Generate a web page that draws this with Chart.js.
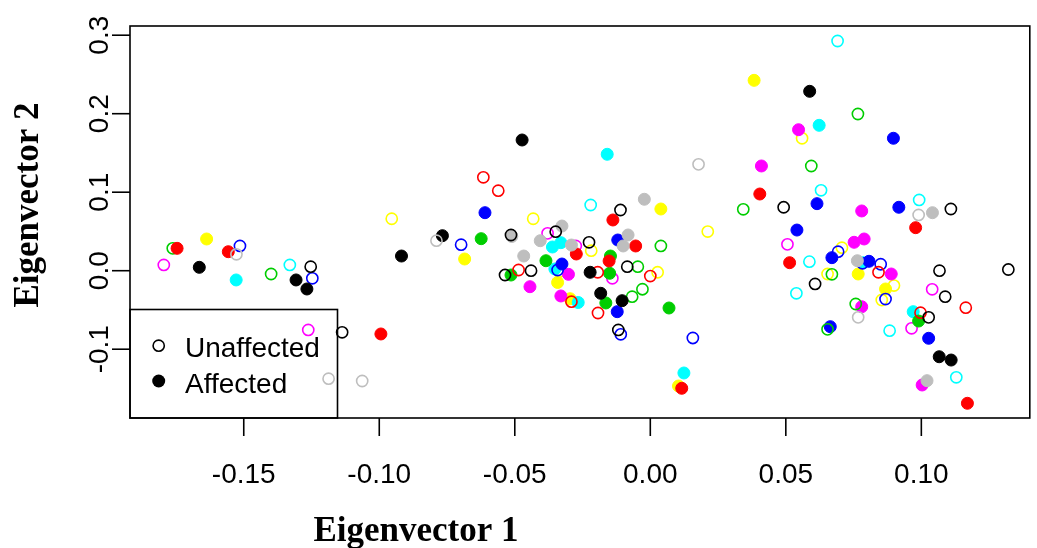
<!DOCTYPE html>
<html><head><meta charset="utf-8">
<script src="https://cdn.jsdelivr.net/npm/chart.js@4.4.1/dist/chart.umd.min.js"></script>
<style>html,body{margin:0;padding:0;background:#fff;}canvas{display:block;}</style>
</head><body>
<canvas id="c" width="1037" height="548"></canvas>
<script>
// ---- axis / text data ----
const xTickValues = [-0.15, -0.10, -0.05, 0.00, 0.05, 0.10];
const xTickLabels = ["-0.15", "-0.10", "-0.05", "0.00", "0.05", "0.10"];
const yTickValues = [-0.1, 0.0, 0.1, 0.2, 0.3];
const yTickLabels = ["-0.1", "0.0", "0.1", "0.2", "0.3"];
const xTitle = "Eigenvector 1";
const yTitle = "Eigenvector 2";
const legendLabels = ["Unaffected", "Affected"];

// ---- point data: [eigenvector1, eigenvector2] ----
const blackOpen = [[-0.1253,0.0051],[-0.1137,-0.0785],[-0.0514,0.0455],[-0.0536,-0.0055],[-0.0440,0.0000],[-0.0349,0.0497],[-0.0110,0.0773],[-0.0226,0.0362],[-0.0085,0.0051],[-0.0118,-0.0755],[0.0492,0.0808],[0.0608,-0.0169],[0.1109,0.0786],[0.1067,0.0000],[0.1321,0.0015],[0.1088,-0.0331],[0.1027,-0.0594]];
const blackFilled = [[-0.1664,0.0043],[-0.1307,-0.0118],[-0.1267,-0.0233],[-0.0767,0.0446],[-0.0918,0.0187],[-0.0473,0.1665],[-0.0222,-0.0020],[-0.0183,-0.0288],[-0.0104,-0.0382],[0.0588,0.2285],[0.1066,-0.1096],[0.1110,-0.1138]];
const redOpen = [[-0.0616,0.1190],[-0.0561,0.1019],[-0.0486,0.0009],[-0.0194,-0.0020],[0.0000,-0.0068],[-0.0193,-0.0539],[-0.0291,-0.0395],[0.0842,-0.0020],[0.0997,-0.0535],[0.1164,-0.0471]];
const redFilled = [[-0.1746,0.0285],[-0.1557,0.0242],[-0.0994,-0.0806],[-0.0273,0.0213],[-0.0138,0.0646],[-0.0054,0.0315],[-0.0152,0.0124],[0.0116,-0.1498],[0.0404,0.0977],[0.0514,0.0102],[0.0979,0.0548],[0.1170,-0.1689]];
const greenOpen = [[-0.1762,0.0285],[-0.1399,-0.0042],[0.0039,0.0315],[-0.0046,0.0051],[-0.0067,-0.0331],[-0.0029,-0.0236],[0.0343,0.0782],[0.0766,0.1996],[0.0594,0.1334],[0.0670,-0.0046],[0.0758,-0.0424],[0.0654,-0.0747]];
const greenFilled = [[-0.0624,0.0408],[-0.0514,-0.0055],[-0.0385,0.0127],[-0.0147,0.0187],[-0.0150,-0.0033],[-0.0164,-0.0411],[0.0069,-0.0475],[0.0990,-0.0641]];
const blueOpen = [[-0.1514,0.0315],[-0.1247,-0.0097],[-0.0698,0.0331],[-0.0342,0.0009],[-0.0109,-0.0810],[0.0157,-0.0857],[0.0693,0.0242],[0.0783,0.0094],[0.0850,0.0082],[0.0868,-0.0361]];
const blueFilled = [[-0.0610,0.0739],[-0.0326,0.0085],[-0.0120,0.0391],[-0.0122,-0.0522],[0.0615,0.0854],[0.0897,0.1687],[0.0917,0.0808],[0.0541,0.0518],[0.0670,0.0166],[0.0807,0.0120],[0.1027,-0.0861],[0.0664,-0.0713]];
const cyanOpen = [[-0.1330,0.0073],[-0.0220,0.0837],[0.0691,0.2926],[0.0630,0.1024],[0.0587,0.0115],[0.0539,-0.0288],[0.0992,0.0901],[0.0883,-0.0764],[0.1129,-0.1358]];
const cyanFilled = [[-0.1528,-0.0118],[-0.0159,0.1483],[-0.0361,0.0302],[-0.0330,0.0357],[-0.0352,0.0022],[-0.0266,-0.0405],[0.0124,-0.1303],[0.0623,0.1852],[0.0785,0.0102],[0.0970,-0.0522]];
const magentaOpen = [[-0.1795,0.0073],[-0.1262,-0.0755],[-0.0379,0.0476],[-0.0140,-0.0097],[0.0506,0.0336],[0.1040,-0.0237],[0.0964,-0.0734],[-0.0275,0.0315]];
const magentaFilled = [[-0.0444,-0.0204],[-0.0302,-0.0046],[-0.0330,-0.0322],[0.0410,0.1334],[0.0547,0.1796],[0.0780,0.0761],[0.0752,0.0362],[0.0789,0.0404],[0.0889,-0.0042],[0.0780,-0.0459],[0.1003,-0.1456]];
const yellowOpen = [[-0.0954,0.0662],[-0.0432,0.0662],[-0.0218,0.0255],[-0.0336,-0.0013],[0.0027,-0.0020],[0.0212,0.0499],[0.0560,0.1687],[0.0707,0.0293],[0.0654,-0.0042],[0.0899,-0.0189],[0.0854,-0.0373]];
const yellowFilled = [[-0.1637,0.0404],[-0.0685,0.0149],[-0.0342,-0.0150],[-0.0296,-0.0357],[0.0039,0.0786],[0.0383,0.2425],[0.0767,-0.0042],[0.0868,-0.0233],[0.0104,-0.1469]];
const grayOpen = [[-0.1527,0.0209],[-0.1187,-0.1376],[-0.1063,-0.1405],[-0.0789,0.0382],[0.0178,0.1355],[0.0990,0.0710],[0.0767,-0.0594]];
const grayFilled = [[-0.0511,0.0436],[-0.0467,0.0187],[-0.0406,0.0382],[-0.0326,0.0569],[-0.0291,0.0327],[-0.0082,0.0455],[-0.0100,0.0315],[-0.0022,0.0910],[0.1041,0.0739],[0.0764,0.0127],[0.1021,-0.1401]];

const colBlack = "#000000", colRed = "#FF0000", colGreen = "#00CD00", colBlue = "#0000FF",
      colCyan = "#00FFFF", colMagenta = "#FF00FF", colYellow = "#FFFF00", colGray = "#BEBEBE";

function toPts(arr){ return arr.map(p => ({x:p[0], y:p[1]})); }
function openSet(arr, col){
  return {data: toPts(arr), pointStyle:'circle', pointRadius:5.6, pointHoverRadius:5.6,
          backgroundColor:'rgba(0,0,0,0)', borderColor:col, pointBorderWidth:1.6, borderWidth:1.6, showLine:false};
}
function fillSet(arr, col){
  return {data: toPts(arr), pointStyle:'circle', pointRadius:6, pointHoverRadius:6,
          backgroundColor:col, borderColor:col, pointBorderWidth:1, borderWidth:1, showLine:false};
}

const datasets = [
  openSet(blackOpen, colBlack), fillSet(grayFilled, colGray), openSet(grayOpen, colGray),
  fillSet(blackFilled, colBlack), openSet(redOpen, colRed), fillSet(redFilled, colRed),
  openSet(greenOpen, colGreen), fillSet(greenFilled, colGreen), openSet(blueOpen, colBlue),
  fillSet(blueFilled, colBlue), openSet(cyanOpen, colCyan), fillSet(cyanFilled, colCyan),
  openSet(magentaOpen, colMagenta), fillSet(magentaFilled, colMagenta),
  openSet(yellowOpen, colYellow), fillSet(yellowFilled, colYellow)
];

const sans = '"Liberation Sans", Arial, sans-serif';
const serif = '"Liberation Serif", "Times New Roman", serif';

const rAxes = {
  id: 'rAxes',
  afterDraw(chart){
    const ctx = chart.ctx, a = chart.chartArea;
    const xs = chart.scales.x, ys = chart.scales.y;
    ctx.save();
    ctx.strokeStyle = '#000'; ctx.fillStyle = '#000'; ctx.lineWidth = 1.6;
    ctx.strokeRect(a.left, a.top, a.right - a.left, a.bottom - a.top);
    // x ticks
    ctx.font = '28px ' + sans; ctx.textAlign = 'center'; ctx.textBaseline = 'alphabetic';
    xTickValues.forEach((v,i) => {
      const px = xs.getPixelForValue(v);
      ctx.beginPath(); ctx.moveTo(px, a.bottom); ctx.lineTo(px, a.bottom + 18); ctx.stroke();
      ctx.fillText(xTickLabels[i], px, 483);
    });
    // y ticks
    yTickValues.forEach((v,i) => {
      const py = ys.getPixelForValue(v);
      ctx.beginPath(); ctx.moveTo(a.left, py); ctx.lineTo(a.left - 18, py); ctx.stroke();
      ctx.save(); ctx.translate(108, py); ctx.rotate(-Math.PI/2);
      ctx.fillText(yTickLabels[i], 0, 0); ctx.restore();
    });
    // titles
    ctx.font = 'bold 35px ' + serif;
    ctx.fillText(xTitle, 416, 541);
    ctx.save(); ctx.translate(38, 205); ctx.rotate(-Math.PI/2);
    ctx.fillText(yTitle, 0, 0); ctx.restore();
    // legend
    const lx0 = a.left, ly0 = 309.5, lx1 = 337.5, ly1 = a.bottom;
    ctx.lineWidth = 1.6;
    ctx.strokeRect(lx0, ly0, lx1 - lx0, ly1 - ly0);
    ctx.beginPath(); ctx.arc(158.7, 345.7, 5.6, 0, Math.PI*2); ctx.lineWidth = 1.6; ctx.stroke();
    ctx.beginPath(); ctx.arc(158.7, 381, 6.5, 0, Math.PI*2); ctx.fill();
    ctx.font = '28px ' + sans; ctx.textAlign = 'left';
    ctx.fillText(legendLabels[0], 185, 357);
    ctx.fillText(legendLabels[1], 185, 393);
    ctx.restore();
  }
};

new Chart(document.getElementById('c'), {
  type: 'scatter',
  data: { datasets },
  options: {
    responsive: false, animation: false, devicePixelRatio: 1,
    layout: { padding: { left: 130, right: 2, top: 26, bottom: 130 } },
    plugins: { legend: { display: false }, tooltip: { enabled: false } },
    scales: {
      x: { type: 'linear', display: false, min: -0.19197, max: 0.14002 },
      y: { type: 'linear', display: false, min: -0.18764, max: 0.31172 }
    },
    elements: { point: { hitRadius: 0 } }
  },
  plugins: [rAxes]
});
</script>
</body></html>
